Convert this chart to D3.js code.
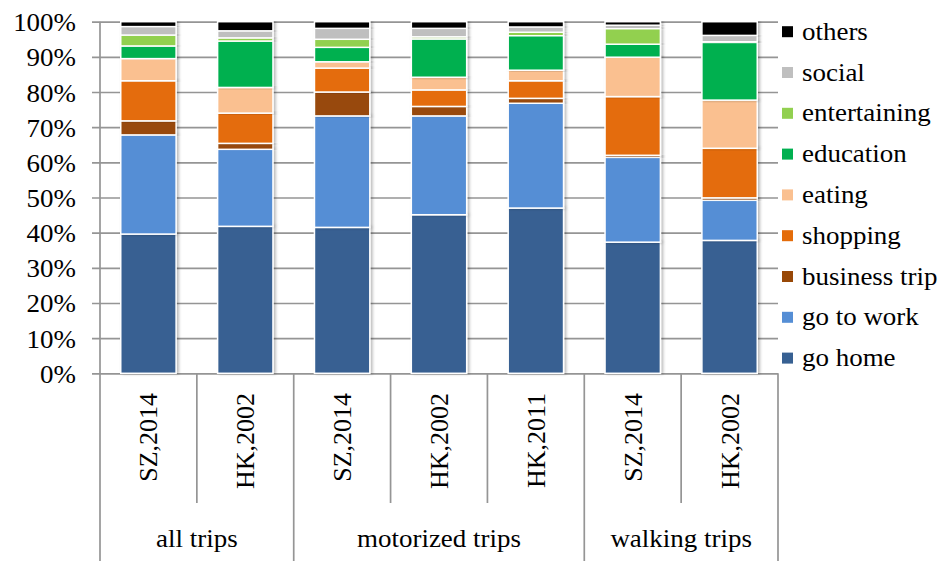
<!DOCTYPE html>
<html>
<head>
<meta charset="utf-8">
<script src="https://cdn.jsdelivr.net/npm/d3@7"></script>
<style>
  body { margin: 0; background: #fff; }
  text { font-family: "Liberation Serif", "Times New Roman", serif; fill: #000; }
</style>
</head>
<body>
<svg id="chart" width="942" height="561"></svg>
<script>
// categories (x axis, two levels)
const categories = ["SZ,2014", "HK,2002", "SZ,2014", "HK,2002", "HK,2011", "SZ,2014", "HK,2002"];
const groupNames = ["all trips", "motorized trips", "walking trips"];
const groupSizes = [2, 3, 2];

// series values, % of trips (bottom to top)
const goHome       = [39.6, 41.8, 41.5, 45.1, 47.0, 37.3, 37.8];
const goToWork     = [28.2, 21.9, 31.7, 28.1, 29.8, 24.1, 11.4];
const businessTrip = [ 4.0,  1.7,  6.8,  2.7,  1.4,  0.6,  0.7];
const shopping     = [11.4,  8.6,  6.8,  4.7,  5.0, 16.7, 14.1];
const eating       = [ 6.3,  7.3,  1.8,  3.6,  3.0, 11.2, 13.7];
const education    = [ 3.6, 13.2,  4.1, 10.9,  9.8,  3.7, 16.4];
const entertaining = [ 3.1,  0.9,  2.3,  0.6,  1.0,  4.4,  0.2];
const social       = [ 2.4,  2.0,  3.1,  2.4,  1.5,  1.0,  1.8];
const others       = [ 1.4,  2.6,  1.9,  1.9,  1.5,  1.0,  3.9];

const seriesNames = ["go home", "go to work", "business trip", "shopping", "eating",
                     "education", "entertaining", "social", "others"];
const seriesValues = [goHome, goToWork, businessTrip, shopping, eating,
                      education, entertaining, social, others];
const seriesColors = ["#376092", "#558ed5", "#984807", "#e46c0a", "#fac090",
                      "#00b050", "#92d050", "#bfbfbf", "#000000"];

const yTicks = [0, 10, 20, 30, 40, 50, 60, 70, 80, 90, 100];

// build rows for d3.stack
const rows = categories.map(function (c, i) {
  const r = { idx: i };
  seriesNames.forEach(function (s, k) { r[s] = seriesValues[k][i]; });
  return r;
});

const svg = d3.select("#chart");
const plotL = 100, plotR = 778, plotT = 21.7, plotB = 373.3;
const fontSize = 24.5;
const stretch = "scale(1.1,1)";

const x = d3.scaleBand().domain(d3.range(categories.length)).range([plotL, plotR]).padding(0);
const y = d3.scaleLinear().domain([0, 100]).range([plotB, plotT]);
const color = d3.scaleOrdinal().domain(seriesNames).range(seriesColors);
const barW = x.bandwidth() / 1.75;

// soft shadow like the office chart
const defs = svg.append("defs");
const f = defs.append("filter").attr("id", "shadow")
  .attr("x", "-20%").attr("y", "-5%").attr("width", "140%").attr("height", "110%");
f.append("feDropShadow").attr("dx", 2).attr("dy", 0).attr("stdDeviation", 1.5)
  .attr("flood-color", "#000").attr("flood-opacity", 0.28);

// gridlines + y labels
const yAxis = d3.axisLeft(y).tickValues(yTicks).tickSize(plotR - 92).tickPadding(16)
  .tickFormat(function (d) { return d + "%"; });
const gy = svg.append("g").attr("transform", "translate(" + plotR + ",0)").call(yAxis);
gy.select(".domain").remove();
gy.selectAll(".tick line").attr("stroke", "#959595").attr("stroke-width", 1.7);
gy.selectAll(".tick text")
  .attr("x", 0).attr("dy", null).attr("y", 9)
  .attr("transform", "translate(" + (-(plotR - 92) - 16) + ",0) " + stretch)
  .style("font-size", fontSize + "px").attr("fill", "#000");
gy.attr("font-family", null).attr("font-size", null);

// vertical axis line (runs down through the category labels)
svg.append("line").attr("x1", plotL).attr("x2", plotL).attr("y1", plotT).attr("y2", 561)
  .attr("stroke", "#959595").attr("stroke-width", 1.7);

// stacked bars
const stack = d3.stack().keys(seriesNames);
const layers = stack(rows);
svg.append("g").selectAll("g")
  .data(layers).enter().append("g")
  .attr("fill", function (d) { return color(d.key); })
  .selectAll("rect")
  .data(function (d) { return d; }).enter().append("rect")
  .attr("x", function (d) { return x(d.data.idx) + (x.bandwidth() - barW) / 2; })
  .attr("y", function (d) { return y(d[1]); })
  .attr("width", barW)
  .attr("height", function (d) { return Math.max(0, y(d[0]) - y(d[1])); })
  .attr("stroke", "#fff").attr("stroke-width", 1.5)
  .attr("filter", "url(#shadow)");

// category separators and labels
const sepG = svg.append("g");
let pos = 0;
const groupStarts = [];
groupSizes.forEach(function (n) { groupStarts.push(pos); pos += n; });
d3.range(1, categories.length).forEach(function (i) {
  const isGroup = groupStarts.indexOf(i) >= 0;
  sepG.append("line")
    .attr("x1", x(i)).attr("x2", x(i))
    .attr("y1", plotB).attr("y2", isGroup ? 561 : 503)
    .attr("stroke", "#959595").attr("stroke-width", 1.7);
});
sepG.append("line").attr("x1", plotR).attr("x2", plotR).attr("y1", plotB).attr("y2", 561)
  .attr("stroke", "#959595").attr("stroke-width", 1.7);

svg.append("g").selectAll("text")
  .data(categories).enter().append("text")
  .attr("transform", function (d, i) {
    return "translate(" + (x(i) + x.bandwidth() / 2 + 9) + ",393) rotate(-90) scale(1.06,1)";
  })
  .attr("text-anchor", "end")
  .style("font-size", fontSize + "px")
  .text(function (d) { return d; });

svg.append("g").selectAll("text")
  .data(groupNames).enter().append("text")
  .attr("transform", function (d, i) {
    const x0 = x(groupStarts[i]);
    const x1 = x(groupStarts[i] + groupSizes[i] - 1) + x.bandwidth();
    return "translate(" + ((x0 + x1) / 2) + ",547) " + stretch;
  })
  .attr("text-anchor", "middle")
  .style("font-size", fontSize + "px")
  .text(function (d) { return d; });

// legend, top entry = last series
const legend = svg.append("g").selectAll("g")
  .data(seriesNames.slice().reverse()).enter().append("g")
  .attr("transform", function (d, i) { return "translate(782," + (31.7 + i * 40.8) + ")"; });
legend.append("rect")
  .attr("x", 0).attr("y", -5.5).attr("width", 11).attr("height", 11)
  .attr("fill", function (d) { return color(d); });
legend.append("text")
  .attr("transform", "translate(20,8) " + stretch)
  .style("font-size", fontSize + "px")
  .text(function (d) { return d; });
</script>
</body>
</html>
